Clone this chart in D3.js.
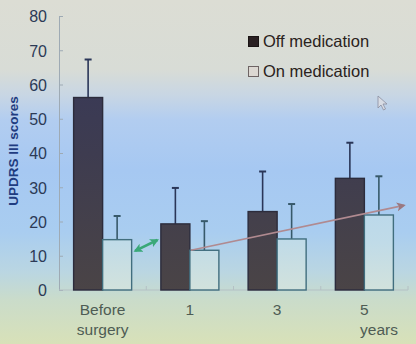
<!DOCTYPE html>
<html>
<head>
<meta charset="utf-8">
<script src="https://cdn.jsdelivr.net/npm/d3@7"></script>
<style>
  html, body { margin: 0; padding: 0; background: #d8dcd4; }
  svg { display: block; }
</style>
</head>
<body>
<svg id="chart" width="416" height="344"></svg>
<script>
// UPDRS III scores before and after surgery, off vs. on medication
const categories = ["Before surgery", "1", "3", "5"];
const seriesNames = ["Off medication", "On medication"];
const offMean = [56.2, 19.3, 22.9, 32.6];
const offErr  = [67.3, 29.8, 34.6, 43.0];
const onMean  = [14.7, 11.6, 14.9, 21.9];
const onErr   = [21.6, 20.1, 25.1, 33.2];
const yTicks  = [0, 10, 20, 30, 40, 50, 60, 70, 80];
// trend annotation: value at year 1 rising to the right end of the axis
const trendValues = [11.6, 24.7];
// double arrow linking pre-op on-medication score with year 1
const linkValues = [11.4, 14.6];

const W = 416, H = 344;
const svg = d3.select("#chart");
const defs = svg.append("defs");

// slide background
const bg = defs.append("linearGradient").attr("id", "bg")
  .attr("gradientUnits", "userSpaceOnUse").attr("x1", 0).attr("y1", 0).attr("x2", 0).attr("y2", H);
[[0, "#dcddd4"], [70, "#d8dcd6"], [95, "#c8d6e4"], [120, "#b2cdf0"], [170, "#a6c8f2"],
 [232, "#a9cdf0"], [272, "#bad6e2"], [300, "#cadcca"], [344, "#d8e1b8"]]
  .forEach(([y, c]) => bg.append("stop").attr("offset", y / H).attr("stop-color", c));
svg.append("rect").attr("width", W).attr("height", H).attr("fill", "url(#bg)");

const y = d3.scaleLinear().domain([0, 80]).range([290, 16]);
const x0 = d3.scaleBand().domain(categories).range([59, 408]).paddingInner(0.335).paddingOuter(0.1675);
const x1 = d3.scaleBand().domain(seriesNames).range([0, x0.bandwidth()]);

const offGrad = defs.append("linearGradient").attr("id", "offFill")
  .attr("gradientUnits", "userSpaceOnUse").attr("x1", 0).attr("y1", y(80)).attr("x2", 0).attr("y2", y(0));
offGrad.append("stop").attr("offset", 0).attr("stop-color", "#36385c");
offGrad.append("stop").attr("offset", 0.5).attr("stop-color", "#3e3c50");
offGrad.append("stop").attr("offset", 1).attr("stop-color", "#4a4446");

const onGrad = defs.append("linearGradient").attr("id", "onFill")
  .attr("gradientUnits", "userSpaceOnUse").attr("x1", 0).attr("y1", y(35)).attr("x2", 0).attr("y2", y(0));
onGrad.append("stop").attr("offset", 0).attr("stop-color", "#b4d5ee");
onGrad.append("stop").attr("offset", 0.6).attr("stop-color", "#c0dbe8");
onGrad.append("stop").attr("offset", 1).attr("stop-color", "#d2e2dc");

// y axis
const yAxis = d3.axisLeft(y).tickValues(yTicks).tickSize(-4).tickPadding(12).tickSizeOuter(0);
const gy = svg.append("g").attr("transform", "translate(59,0)").call(yAxis);
gy.select(".domain").attr("stroke", "#9eaab4").attr("stroke-width", 1);
gy.selectAll(".tick line").attr("stroke", "#9eaab4");
gy.selectAll(".tick text").attr("fill", "#2c3a56").attr("font-family", "Liberation Sans, Arial, sans-serif")
  .attr("font-size", 16).attr("dy", "0.36em");

// x baseline with group separators
const sepTicks = categories.map(c => x0(c) + x0.bandwidth() + x0.step() * x0.paddingInner() / 2);
const gx = svg.append("g").attr("transform", `translate(0,${y(0)})`);
gx.append("line").attr("x1", 59).attr("x2", 408).attr("stroke", "#b4c0c4").attr("stroke-width", 1.2);
gx.selectAll("line.sep").data(sepTicks).join("line").attr("class", "sep")
  .attr("x1", d => d).attr("x2", d => d).attr("y1", 0).attr("y2", -4).attr("stroke", "#b4c0c4");

// bars
const groups = svg.append("g").selectAll("g").data(categories).join("g")
  .attr("transform", c => `translate(${x0(c)},0)`);

function drawSeries(name, means, errs, fill, stroke, errColor) {
  const bx = x1(name), bw = x1.bandwidth();
  groups.append("line")
    .attr("x1", bx + bw / 2).attr("x2", bx + bw / 2)
    .attr("y1", (c, i) => y(means[i])).attr("y2", (c, i) => y(errs[i]))
    .attr("stroke", errColor).attr("stroke-width", 1.6);
  groups.append("line")
    .attr("x1", bx + bw / 2 - 3.5).attr("x2", bx + bw / 2 + 3.5)
    .attr("y1", (c, i) => y(errs[i])).attr("y2", (c, i) => y(errs[i]))
    .attr("stroke", errColor).attr("stroke-width", 2);
  groups.append("rect")
    .attr("x", bx).attr("width", bw)
    .attr("y", (c, i) => y(means[i])).attr("height", (c, i) => y(0) - y(means[i]))
    .attr("fill", fill).attr("stroke", stroke).attr("stroke-width", 1.4);
}
drawSeries("Off medication", offMean, offErr, "url(#offFill)", "#2c2c3c", "#2a3658");
drawSeries("On medication", onMean, onErr, "url(#onFill)", "#416e7e", "#37596a");

// arrowheads
function marker(id, color, w, h) {
  defs.append("marker").attr("id", id).attr("viewBox", "0 0 10 10").attr("refX", 8).attr("refY", 5)
    .attr("markerWidth", w).attr("markerHeight", h).attr("orient", "auto-start-reverse")
    .attr("markerUnits", "userSpaceOnUse")
    .append("path").attr("d", "M0,0 L10,5 L0,10 L2.5,5 Z").attr("fill", color);
}
marker("trendHead", "#9a7880", 11, 9);
marker("linkHead", "#3aa878", 9, 9);

// trend line from year 1 to the right end of the axis
const trendStart = x0("1") + x0.bandwidth() / 2 + 1;
const trendEnd = 404;
svg.append("line")
  .attr("x1", trendStart).attr("y1", y(trendValues[0]))
  .attr("x2", trendEnd).attr("y2", y(trendValues[1]))
  .attr("stroke", "#b08a90").attr("stroke-width", 1.6).attr("marker-end", "url(#trendHead)");

// double arrow between the pre-op on-medication bar and year 1
const linkStart = x0("Before surgery") + x0.bandwidth() + 3.5;
const linkEnd = x0("1") - 3.5;
svg.append("line")
  .attr("x1", linkStart).attr("y1", y(linkValues[0]))
  .attr("x2", linkEnd).attr("y2", y(linkValues[1]))
  .attr("stroke", "#3aa878").attr("stroke-width", 2.6)
  .attr("marker-start", "url(#linkHead)").attr("marker-end", "url(#linkHead)");

// category labels
const catFont = "Liberation Sans, Arial, sans-serif";
const catLines = { "Before surgery": ["Before", "surgery"], "1": ["1"], "3": ["3"], "5": ["5"] };
categories.forEach(c => {
  catLines[c].forEach((t, k) => {
    svg.append("text").attr("x", x0(c) + x0.bandwidth() / 2).attr("y", 315 + k * 20)
      .attr("text-anchor", "middle").attr("font-family", catFont).attr("font-size", 15.5)
      .attr("fill", "#4e5c54").text(t);
  });
});
svg.append("text").attr("x", 379).attr("y", 335).attr("text-anchor", "middle")
  .attr("font-family", catFont).attr("font-size", 15.5).attr("fill", "#4e5c54").text("years");

// y axis title
svg.append("text").attr("transform", "translate(18,151) rotate(-90)")
  .attr("text-anchor", "middle").attr("font-family", catFont).attr("font-weight", "bold")
  .attr("font-size", 13.5).attr("fill", "#1f3c80").text("UPDRS III scores");

// legend
const legend = svg.append("g").attr("transform", "translate(248,36)");
const legendStyle = [
  { fill: "#2a2022", stroke: "#1a1414" },
  { fill: "#dcd8d2", stroke: "#6e6464" }
];
seriesNames.forEach((s, i) => {
  const g = legend.append("g").attr("transform", `translate(0,${i * 30})`);
  g.append("rect").attr("x", 0.5).attr("y", 0.5).attr("width", 10).attr("height", 10)
    .attr("fill", legendStyle[i].fill).attr("stroke", legendStyle[i].stroke).attr("stroke-width", 1);
  g.append("text").attr("x", 15).attr("y", 10.5).attr("font-family", catFont)
    .attr("font-size", 16.5).attr("fill", "#2a2220").text(s);
});

// mouse pointer resting on the slide
svg.append("path")
  .attr("d", "M378,96 L378,108 L381,105 L383.5,110 L385.5,109 L383,104 L387,104 Z")
  .attr("fill", "#d8dce4").attr("stroke", "#8a8ea0").attr("stroke-width", 0.8);
</script>
</body>
</html>
